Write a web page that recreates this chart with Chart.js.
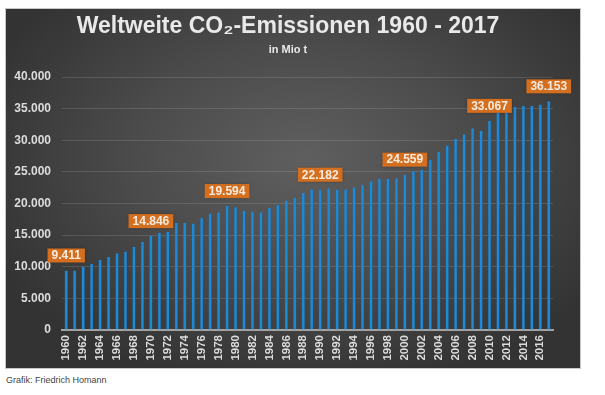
<!DOCTYPE html>
<html lang="de">
<head>
<meta charset="utf-8">
<title>Weltweite CO2-Emissionen 1960 - 2017</title>
<script src="https://cdn.jsdelivr.net/npm/chart.js@4/dist/chart.umd.min.js"></script>
<style>
    html, body { margin: 0; padding: 0; background: #fff; }
    body { width: 605px; height: 395px; position: relative; overflow: hidden; font-family: 'Liberation Sans', Arial, sans-serif; }
    #panel {
        position: absolute; left: 6px; top: 9px; width: 574px; height: 359px;
        background: radial-gradient(ellipse 60% 65% at 52% 42%, #5f5f5f 0%, #4b4b4b 50%, #333 100%);
        box-shadow: 0 0 0 1px #c8c8c8;
    }
    #panel canvas { display: block; }
    #source { position: absolute; left: 6px; top: 375px; font-size: 9px; color: #444; }
</style>
</head>
<body>
<div id="panel"><canvas id="chart" width="574" height="359"></canvas></div>
<div id="source">Grafik: Friedrich Homann</div>
<script>
// Jahre (Kategorien)
const years = [
    '1960', '1961', '1962', '1963', '1964', '1965', '1966', '1967', '1968', '1969',
    '1970', '1971', '1972', '1973', '1974', '1975', '1976', '1977', '1978', '1979',
    '1980', '1981', '1982', '1983', '1984', '1985', '1986', '1987', '1988', '1989',
    '1990', '1991', '1992', '1993', '1994', '1995', '1996', '1997', '1998', '1999',
    '2000', '2001', '2002', '2003', '2004', '2005', '2006', '2007', '2008', '2009',
    '2010', '2011', '2012', '2013', '2014', '2015', '2016', '2017'
];

// CO2-Emissionen in Mio t
const emissions = [
    9411, 9400, 9960, 10490, 11070, 11540, 12120, 12430, 13110, 13950,
    14846, 15370, 15500, 16950, 16950, 16840, 17730, 18360, 18630, 19594,
    19410, 18840, 18730, 18630, 19310, 19780, 20460, 20880, 21670, 22250,
    22182, 22400, 22200, 22250, 22560, 22980, 23510, 23930, 23930, 23980,
    24559, 25080, 25350, 26870, 28130, 29180, 30230, 30960, 31910, 31490,
    33067, 34300, 34700, 35280, 35430, 35430, 35640, 36153
];

// Jahre mit Wertebeschriftung
const labelledYears = ['1960', '1970', '1979', '1990', '2000', '2010', '2017'];

// y-Achse
const yMax = 40000;
const yStep = 5000;

// Zahlen im deutschen Format (Tausenderpunkt)
const formatDe = (value) => String(value).replace(/\B(?=(\d{3})+(?!\d))/g, '.');

const FONT = "'Liberation Sans', Arial, sans-serif";

// Orange Wertekästchen über den Balken
const valueBoxes = {
    id: 'valueBoxes',
    afterDatasetsDraw(chart) {
        const ctx = chart.ctx;
        const meta = chart.getDatasetMeta(0);
        ctx.save();
        ctx.font = 'bold 12px ' + FONT;
        ctx.textAlign = 'center';
        ctx.textBaseline = 'middle';
        labelledYears.forEach(year => {
            const i = years.indexOf(year);
            const bar = meta.data[i];
            const text = formatDe(emissions[i]);
            const w = ctx.measureText(text).width + 8;
            const h = 14;
            const bottom = bar.y - 8;
            ctx.shadowColor = 'rgba(0,0,0,0.35)';
            ctx.shadowBlur = 3;
            ctx.fillStyle = '#d46f1f';
            ctx.fillRect(bar.x - w / 2, bottom - h, w, h);
            ctx.shadowBlur = 0;
            ctx.fillStyle = '#f6ebe0';
            ctx.fillText(text, bar.x, bottom - h / 2 + 0.5);
        });
        ctx.restore();
    }
};

new Chart(document.getElementById('chart'), {
    type: 'bar',
    data: {
        labels: years,
        datasets: [{
            label: 'CO2-Emissionen',
            data: emissions,
            backgroundColor: '#2089d4',
            borderColor: '#146ba9',
            borderWidth: { left: 0.5, right: 0.5, top: 0, bottom: 0 },
            barPercentage: 0.4,
            categoryPercentage: 1.0
        }]
    },
    options: {
        responsive: false,
        animation: false,
        layout: { padding: { left: 6, right: 16, top: 0, bottom: 0 } },
        plugins: {
            legend: { display: false },
            tooltip: { enabled: false },
            title: {
                display: true,
                text: 'Weltweite CO₂-Emissionen 1960 - 2017',
                color: '#e9e9e9',
                font: { family: FONT, size: 23, weight: 'bold' },
                padding: { top: 4, bottom: 0 }
            },
            subtitle: {
                display: true,
                text: 'in Mio t',
                color: '#e9e9e9',
                font: { family: FONT, size: 11, weight: 'bold' },
                padding: { top: 2.5, bottom: 20.7 }
            }
        },
        scales: {
            x: {
                grid: { display: false, drawTicks: false },
                border: { display: true, color: '#a3a3a3', width: 2 },
                ticks: {
                    autoSkip: false,
                    minRotation: 90,
                    maxRotation: 90,
                    padding: 5,
                    color: '#dcdcdc',
                    font: { family: FONT, size: 11.5, weight: 'bold' },
                    callback: function (value, index) {
                        return index % 2 === 0 ? years[index] : '';
                    }
                },
                afterFit: function (scale) { scale.height = 38; }
            },
            y: {
                min: 0,
                max: yMax,
                grid: { color: 'rgba(255,255,255,0.13)', drawTicks: false },
                border: { display: false },
                ticks: {
                    stepSize: yStep,
                    padding: 11,
                    color: '#dcdcdc',
                    font: { family: FONT, size: 12, weight: 'bold' },
                    callback: function (value) { return formatDe(value); }
                },
                afterFit: function (scale) { scale.width = 50; }
            },
            // leere rechte Achse als Rand rechts vom Diagramm
            yRight: {
                position: 'right',
                min: 0,
                max: yMax,
                grid: { display: false, drawTicks: false },
                border: { display: false },
                ticks: { display: false },
                afterFit: function (scale) { scale.width = 11; }
            }
        }
    },
    plugins: [valueBoxes]
});
</script>
</body>
</html>
